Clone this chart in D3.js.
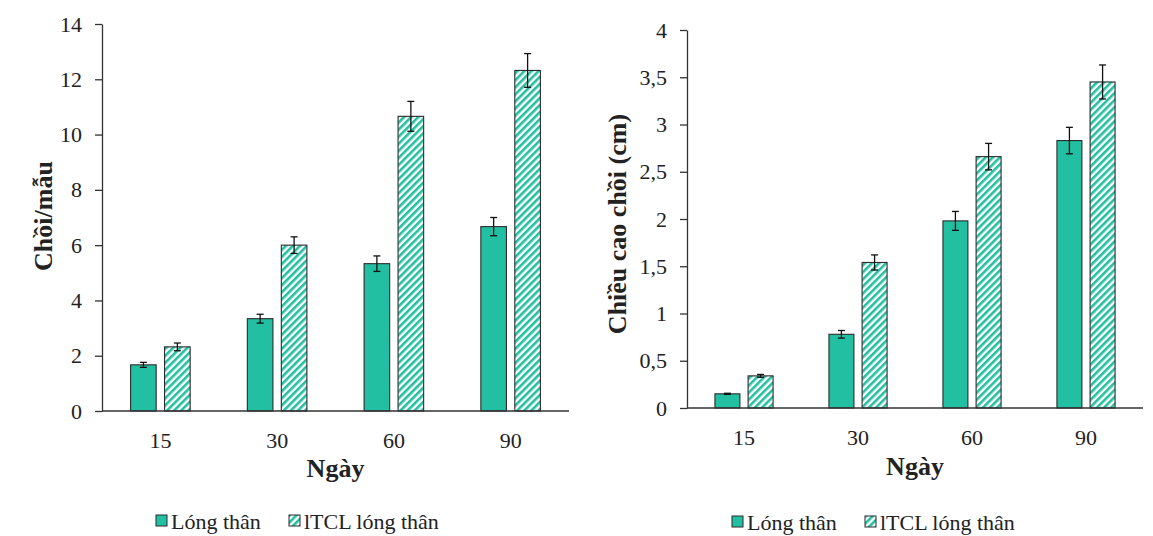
<!DOCTYPE html>
<html>
<head>
<meta charset="utf-8">
<script src="https://cdn.jsdelivr.net/npm/d3@7"></script>
<style>
  html, body { margin: 0; padding: 0; background: #fff; }
  svg { display: block; }
</style>
</head>
<body>
<svg id="chart" width="1153" height="536"></svg>
<script>
// Sampling days (x categories)
const days = ["15", "30", "60", "90"];
const seriesNames = ["Lóng thân", "lTCL lóng thân"];

// Panel A: shoots per explant
const shootsLongThan = [1.67, 3.34, 5.33, 6.67];
const shootsLongThanErr = [0.09, 0.16, 0.28, 0.33];
const shootsTCL = [2.32, 6.0, 10.66, 12.32];
const shootsTCLErr = [0.14, 0.30, 0.54, 0.61];
const shootTicks = [0, 2, 4, 6, 8, 10, 12, 14];

// Panel B: shoot height (cm)
const heightLongThan = [0.15, 0.78, 1.98, 2.83];
const heightLongThanErr = [0.006, 0.04, 0.10, 0.14];
const heightTCL = [0.34, 1.54, 2.66, 3.45];
const heightTCLErr = [0.015, 0.08, 0.14, 0.18];
const heightTicks = [0, 0.5, 1, 1.5, 2, 2.5, 3, 3.5, 4];

const FONT = "'Liberation Serif', 'Times New Roman', serif";
const TEAL = "#22bfa2";
const OUTLINE = "#2a2a2a";
const TEXT = "#222";

const svg = d3.select("#chart");

// Diagonal hatch used for the lTCL series
const defs = svg.append("defs");
const pat = defs.append("pattern")
  .attr("id", "hatch")
  .attr("patternUnits", "userSpaceOnUse")
  .attr("width", 5).attr("height", 5)
  .attr("patternTransform", "rotate(45)");
pat.append("rect").attr("width", 5).attr("height", 5).attr("fill", "#fff");
pat.append("rect").attr("width", 2.6).attr("height", 5).attr("fill", TEAL);

const fills = [TEAL, "url(#hatch)"];

function styleText(sel, size, bold) {
  sel.style("font-family", FONT)
    .style("font-size", size + "px")
    .style("font-weight", bold ? "bold" : "normal")
    .attr("fill", TEXT);
}

function drawPanel(cfg) {
  const g = svg.append("g");

  const x = d3.scaleBand().domain(days).range([cfg.left, cfg.right]).padding(0);
  const bw = x.bandwidth();
  const groupW = bw * 0.51;
  const xs = d3.scaleBand().domain(seriesNames)
    .range([bw / 2 - groupW / 2, bw / 2 + groupW / 2])
    .paddingInner(0.247).paddingOuter(0);

  const y = d3.scaleLinear().domain(cfg.domain).range([cfg.bottom, cfg.top]);

  const rows = days.map((d, i) => ({
    day: d,
    vals: [
      { s: seriesNames[0], v: cfg.values[0][i], e: cfg.errors[0][i], k: 0 },
      { s: seriesNames[1], v: cfg.values[1][i], e: cfg.errors[1][i], k: 1 }
    ]
  }));

  // Bars
  const grp = g.selectAll("g.day").data(rows).join("g")
    .attr("class", "day")
    .attr("transform", d => `translate(${x(d.day)},0)`);

  grp.selectAll("rect").data(d => d.vals).join("rect")
    .attr("x", d => xs(d.s))
    .attr("y", d => y(d.v))
    .attr("width", xs.bandwidth())
    .attr("height", d => y(0) - y(d.v))
    .attr("fill", d => fills[d.k])
    .attr("stroke", OUTLINE)
    .attr("stroke-width", 1.1);

  // Error bars
  const eb = grp.selectAll("g.err").data(d => d.vals).join("g").attr("class", "err");
  const cx = d => xs(d.s) + xs.bandwidth() / 2;
  eb.append("line")
    .attr("x1", cx).attr("x2", cx)
    .attr("y1", d => y(d.v + d.e)).attr("y2", d => y(d.v - d.e))
    .attr("stroke", "#111").attr("stroke-width", 1.3);
  [1, -1].forEach(sgn => {
    eb.append("line")
      .attr("x1", d => cx(d) - 3.5).attr("x2", d => cx(d) + 3.5)
      .attr("y1", d => y(d.v + sgn * d.e)).attr("y2", d => y(d.v + sgn * d.e))
      .attr("stroke", "#111").attr("stroke-width", 1.3);
  });

  // Y axis
  const yAxis = d3.axisLeft(y).tickValues(cfg.ticks)
    .tickSize(7).tickSizeOuter(0).tickPadding(13)
    .tickFormat(cfg.fmt);
  const ya = g.append("g").attr("transform", `translate(${cfg.left},0)`).call(yAxis);
  ya.attr("font-family", null).attr("font-size", null);
  ya.selectAll("path, line").attr("stroke", "#333").attr("stroke-width", 1.3);
  styleText(ya.selectAll("text"), 22, false);

  // X axis
  const xAxis = d3.axisBottom(x).tickSize(0).tickSizeOuter(0).tickPadding(21);
  const xa = g.append("g").attr("transform", `translate(0,${cfg.bottom})`).call(xAxis);
  xa.attr("font-family", null).attr("font-size", null);
  xa.select("path").attr("stroke", "#333").attr("stroke-width", 1.3)
    .attr("d", `M${cfg.left},0H${cfg.right}`);
  styleText(xa.selectAll("text"), 22, false);

  // Axis titles
  styleText(g.append("text")
    .attr("transform", `translate(${cfg.titleX},${cfg.titleY}) rotate(-90)`)
    .attr("text-anchor", "middle").attr("dominant-baseline", "central")
    .text(cfg.yTitle), 26, true);

  styleText(g.append("text")
    .attr("x", (cfg.left + cfg.right) / 2).attr("y", cfg.xTitleY)
    .attr("text-anchor", "middle")
    .text("Ngày"), 26, true);

  // Legend
  const lg = g.append("g").attr("transform", `translate(${cfg.legendX},${cfg.legendY})`);
  const items = lg.selectAll("g").data(seriesNames).join("g")
    .attr("transform", (d, i) => `translate(${i === 0 ? 0 : cfg.legendGap},0)`);
  items.append("rect")
    .attr("x", 0).attr("y", -6).attr("width", 11).attr("height", 11)
    .attr("fill", (d, i) => fills[i])
    .attr("stroke", OUTLINE).attr("stroke-width", 1);
  styleText(items.append("text")
    .attr("x", 15).attr("y", 0)
    .attr("dominant-baseline", "central")
    .text(d => d), 22, false);
}

const fmtComma = d => String(d).replace(".", ",");

drawPanel({
  left: 102, right: 569, top: 24, bottom: 411,
  domain: [0, 14], ticks: shootTicks, fmt: d3.format("d"),
  values: [shootsLongThan, shootsTCL],
  errors: [shootsLongThanErr, shootsTCLErr],
  yTitle: "Chồi/mẫu", titleX: 43, titleY: 216, xTitleY: 477,
  legendX: 156, legendY: 521, legendGap: 133
});

drawPanel({
  left: 687, right: 1143, top: 30, bottom: 408,
  domain: [0, 4], ticks: heightTicks, fmt: fmtComma,
  values: [heightLongThan, heightTCL],
  errors: [heightLongThanErr, heightTCLErr],
  yTitle: "Chiều cao chồi (cm)", titleX: 617, titleY: 224, xTitleY: 475,
  legendX: 732, legendY: 522, legendGap: 133
});
</script>
</body>
</html>
